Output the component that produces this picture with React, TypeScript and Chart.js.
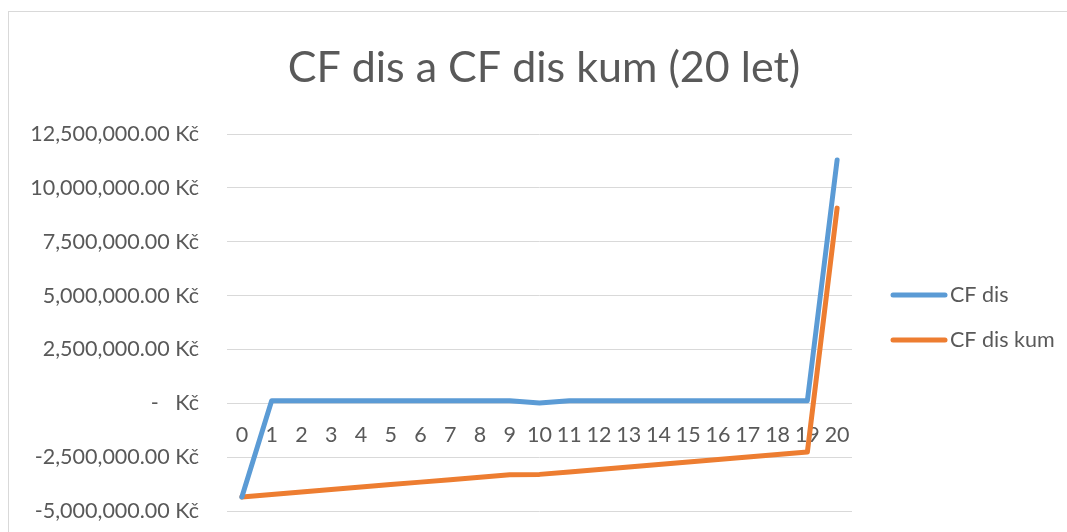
import React, { useEffect, useRef } from "react";
import { Chart, registerables } from "chart.js";

Chart.register(...registerables);

const TITLE = "CF dis a CF dis kum (20 let)";
const YEARS: string[] = ["0","1","2","3","4","5","6","7","8","9","10","11","12","13","14","15","16","17","18","19","20"];
const CF_DIS: number[] = [
  -4350000, 115000, 115000, 115000, 115000, 115000, 115000, 115000, 115000, 115000,
  15000, 115000, 115000, 115000, 115000, 115000, 115000, 115000, 115000, 115000, 11290000,
];
const CF_DIS_KUM: number[] = [
  -4350000, -4235000, -4120000, -4005000, -3890000, -3775000, -3660000, -3545000, -3430000, -3315000,
  -3300000, -3185000, -3070000, -2955000, -2840000, -2725000, -2610000, -2495000, -2380000, -2265000, 9060000,
];
const SERIES_NAMES: string[] = ["CF dis", "CF dis kum"];
const SERIES_COLORS: string[] = ["#5B9BD5", "#ED7D31"];
const Y_MIN = -5000000;
const Y_MAX = 12500000;
const Y_STEP = 2500000;

const FONT = "Lato, 'Open Sans', sans-serif";
const TEXT = "#595959";
const TICK_SIZE = 21.5;

function fmt(v: number): string {
  if (v === 0) return "-   Kč";
  const s = Math.abs(v).toFixed(2).replace(/\B(?=(\d{3})+(?!\d))/g, ",");
  return (v < 0 ? "-" : "") + s + " Kč";
}

const decorPlugin = {
  id: "decor",
  afterDraw(chart: any) {
    const ctx = chart.ctx;
    ctx.save();
    ctx.fillStyle = TEXT;
    ctx.font = `43px ${FONT}`;
    ctx.textAlign = "center";
    ctx.textBaseline = "middle";
    ctx.fillText(TITLE, 544, 68);
    const ys = [295, 340];
    chart.data.datasets.forEach((ds: any, i: number) => {
      ctx.strokeStyle = ds.borderColor;
      ctx.lineWidth = 5;
      ctx.lineCap = "round";
      ctx.beginPath();
      ctx.moveTo(893, ys[i]);
      ctx.lineTo(945, ys[i]);
      ctx.stroke();
      ctx.fillStyle = TEXT;
      ctx.font = `${TICK_SIZE}px ${FONT}`;
      ctx.textAlign = "left";
      ctx.textBaseline = "middle";
      ctx.fillText(ds.label, 950, ys[i]);
    });
    ctx.restore();
  },
};

export default function App() {
  const ref = useRef<HTMLCanvasElement | null>(null);
  useEffect(() => {
    if (!ref.current) return;
    const chart = new Chart(ref.current, {
      type: "line",
      data: {
        labels: YEARS,
        datasets: [
          { label: SERIES_NAMES[0], data: CF_DIS, borderColor: SERIES_COLORS[0], backgroundColor: SERIES_COLORS[0], borderWidth: 5, pointRadius: 0, tension: 0, borderJoinStyle: "round", borderCapStyle: "round" },
          { label: SERIES_NAMES[1], data: CF_DIS_KUM, borderColor: SERIES_COLORS[1], backgroundColor: SERIES_COLORS[1], borderWidth: 5, pointRadius: 0, tension: 0, borderJoinStyle: "round", borderCapStyle: "round" },
        ],
      },
      options: {
        animation: false,
        responsive: false,
        devicePixelRatio: 1,
        layout: { padding: { left: 0, top: 134, right: 215, bottom: 21 } },
        plugins: { legend: { display: false }, title: { display: false }, tooltip: { enabled: false } },
        scales: {
          x: {
            type: "category",
            position: { y: 0 } as any,
            offset: true,
            grid: { display: false, drawTicks: false },
            border: { display: false },
            afterFit(scale: any) { scale.height = 0; },
            ticks: { color: TEXT, font: { family: FONT, size: TICK_SIZE }, padding: 19, autoSkip: false, maxRotation: 0 },
          },
          y: {
            min: Y_MIN,
            max: Y_MAX,
            grid: { color: "#d9d9d9", lineWidth: 1, drawTicks: false },
            border: { display: false },
            afterFit(scale: any) { scale.width = 227; scale.paddingTop = 0; scale.paddingBottom = 0; },
            ticks: { stepSize: Y_STEP, color: TEXT, font: { family: FONT, size: TICK_SIZE }, padding: 28, callback: (v: any) => fmt(Number(v)) },
          },
        },
      },
      plugins: [decorPlugin],
    });
    return () => chart.destroy();
  }, []);
  return (
    <>
      <div style={{ position: "fixed", left: 8, top: 11, width: 1200, height: 700, borderLeft: "1px solid #d9d9d9", borderTop: "1px solid #d9d9d9", boxSizing: "border-box" }} />
      <canvas ref={ref} width={1067} height={532} style={{ position: "fixed", left: 0, top: 0, width: 1067, height: 532 }} />
    </>
  );
}
